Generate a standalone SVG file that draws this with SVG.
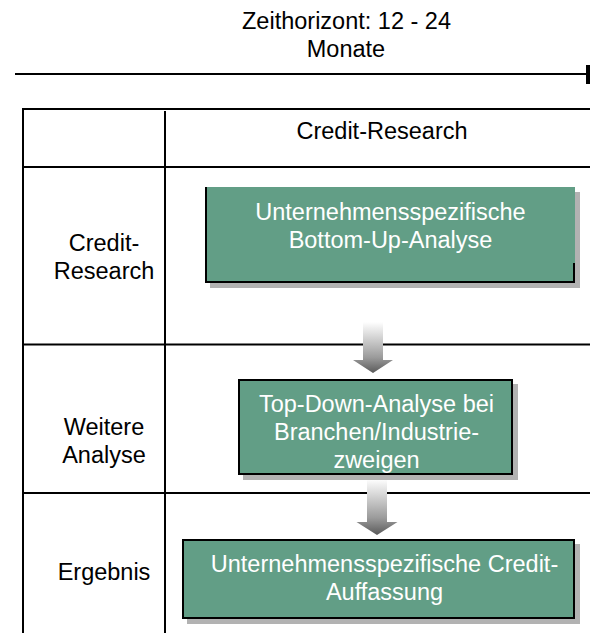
<svg xmlns="http://www.w3.org/2000/svg" width="590" height="633" viewBox="0 0 590 633">
<style>
text{font-family:"Liberation Sans",Arial,sans-serif;font-size:23.5px;text-anchor:middle}
.dark{fill:#000}
.light{fill:#fff}
.ln{stroke:#000;stroke-width:2;fill:none}
.box{fill:#629E86}
.bd{stroke:#000;stroke-width:2;fill:none}
.sh{fill:#B2B2B2}
</style>
<defs>
<linearGradient id="ag" x1="0" y1="0" x2="0" y2="1">
<stop offset="0" stop-color="#ffffff"/>
<stop offset="0.7" stop-color="#9a9a9a"/>
<stop offset="1" stop-color="#5a5a5a"/>
</linearGradient>
</defs>
<rect width="590" height="633" fill="#fff"/>
<g id="timeline">
<text class="dark" x="346.5" y="28.5">Zeithorizont: 12 - 24</text>
<text class="dark" x="346" y="56.5">Monate</text>
<line class="ln" x1="15" y1="74" x2="588" y2="74"/>
<rect x="586" y="65" width="4" height="19" fill="#000"/>
</g>
<g id="table">
<path class="ln" d="M23 633V109H592M165 111V633M23 167H592M23 344.5H592M23 493H592"/>
<text class="dark" x="382" y="139">Credit-Research</text>
</g>
<g id="row-credit-research"><text class="dark" x="104" y="251">Credit-</text><text class="dark" x="104" y="279">Research</text></g>
<g id="row-weitere-analyse"><text class="dark" x="104" y="435">Weitere</text><text class="dark" x="104" y="463">Analyse</text></g>
<g id="row-ergebnis"><text class="dark" x="104" y="580">Ergebnis</text></g>
<g id="connectors">
<path fill="url(#ag)" d="M363 322H383V360H393L373 373L353 360H363Z"/>
<path fill="url(#ag)" d="M367 479H387V522H397.5L377 535L356.5 522H367Z"/>
</g>
<g id="node-bottom-up">
<rect class="sh" x="210" y="192" width="370" height="96"/>
<rect class="box" x="205" y="187" width="370" height="96"/>
<path class="bd" d="M206 187V282H574V263"/>
<text class="light" x="390.5" y="220">Unternehmensspezifische</text>
<text class="light" x="390.5" y="248">Bottom-Up-Analyse</text>
</g>
<g id="node-top-down">
<rect class="sh" x="243" y="384" width="275" height="96"/>
<rect class="box" x="238" y="379" width="275" height="96"/>
<rect class="bd" x="239" y="380" width="273" height="94"/>
<text class="light" x="376.5" y="412">Top-Down-Analyse bei</text>
<text class="light" x="376.5" y="440">Branchen/Industrie-</text>
<text class="light" x="376.5" y="468">zweigen</text>
</g>
<g id="node-ergebnis">
<rect class="sh" x="187" y="544" width="393" height="80"/>
<rect class="box" x="182" y="539" width="393" height="80"/>
<rect class="bd" x="183" y="540" width="391" height="78"/>
<text class="light" x="384.5" y="572">Unternehmensspezifische Credit-</text>
<text class="light" x="384.5" y="600">Auffassung</text>
</g>
</svg>
